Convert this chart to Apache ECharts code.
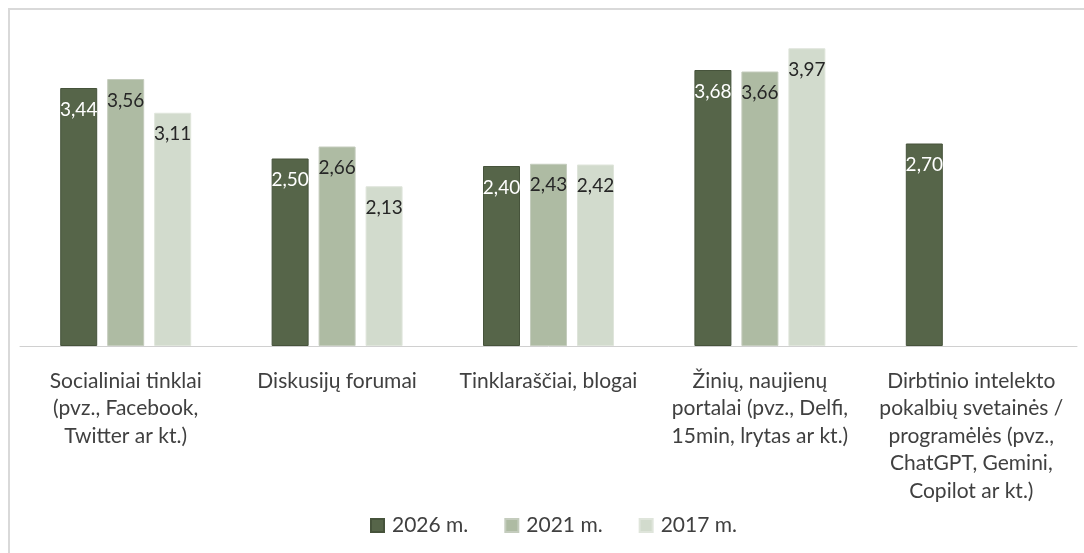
<!DOCTYPE html>
<html>
<head>
<meta charset="utf-8">
<script src="https://cdn.jsdelivr.net/npm/echarts@6/dist/echarts.min.js"></script>
<style>
  html, body { margin: 0; padding: 0; background: #fff; }
  #chart { width: 1084px; height: 553px; }
</style>
</head>
<body>
<div id="chart"></div>
<script>
const categories = [
  "Socialiniai tinklai\n(pvz., Facebook,\nTwitter ar kt.)",
  "Diskusijų forumai",
  "Tinklaraščiai, blogai",
  "Žinių, naujienų\nportalai (pvz., Delfi,\n15min, lrytas ar kt.)",
  "Dirbtinio intelekto\npokalbių svetainės /\nprogramėlės (pvz.,\nChatGPT, Gemini,\nCopilot ar kt.)"
];
const seriesNames = ["2026 m.", "2021 m.", "2017 m."];
const values2026 = [3.44, 2.50, 2.40, 3.68, 2.70];
const values2021 = [3.56, 2.66, 2.43, 3.66, null];
const values2017 = [3.11, 2.13, 2.42, 3.97, null];

const font = "Lato, 'Open Sans', sans-serif";
const fill = ["#566549", "#aebba3", "#d2dbcd"];
const edge = ["#46533b", "#c4ccbd", "#dfe5db"];
const labelColor = ["#ffffff", "#262626", "#262626"];

function makeSeries(i, data) {
  return {
    name: seriesNames[i],
    type: "bar",
    data: data,
    barWidth: 37,
    barGap: "27%",
    itemStyle: { color: fill[i], borderColor: edge[i], borderWidth: 1 },
    label: {
      show: true,
      position: "insideTop",
      distance: 12,
      color: labelColor[i],
      fontFamily: font,
      fontSize: 19,
      formatter: p => p.value == null ? "" : p.value.toFixed(2).replace(".", ",")
    },
    emphasis: { disabled: true }
  };
}

const chart = echarts.init(document.getElementById("chart"));
chart.setOption({
  animation: false,
  textStyle: { fontFamily: font },
  graphic: [{
    type: "rect",
    shape: { x: 9, y: 9, width: 1200, height: 700 },
    style: { fill: "none", stroke: "#d9d9d9", lineWidth: 2 },
    silent: true
  }],
  grid: { left: 20, right: 7, top: 46, bottom: 207 },
  legend: {
    data: seriesNames,
    bottom: 12,
    left: 365,
    itemWidth: 13,
    itemHeight: 13,
    itemGap: 36,
    icon: "rect",
    textStyle: { fontFamily: font, fontSize: 21, color: "#404040", padding: [0, 0, 0, 3] }
  },
  xAxis: {
    type: "category",
    data: categories,
    axisLine: { lineStyle: { color: "#d0d0d0", width: 1 } },
    axisTick: { show: false },
    axisLabel: {
      interval: 0,
      margin: 21,
      fontFamily: font,
      fontSize: 21,
      lineHeight: 27.5,
      color: "#404040",
      align: "center"
    }
  },
  yAxis: {
    type: "value",
    min: 0,
    max: 4,
    show: false,
    splitLine: { show: false }
  },
  series: [
    makeSeries(0, values2026),
    makeSeries(1, values2021),
    makeSeries(2, values2017)
  ]
});
</script>
</body>
</html>
